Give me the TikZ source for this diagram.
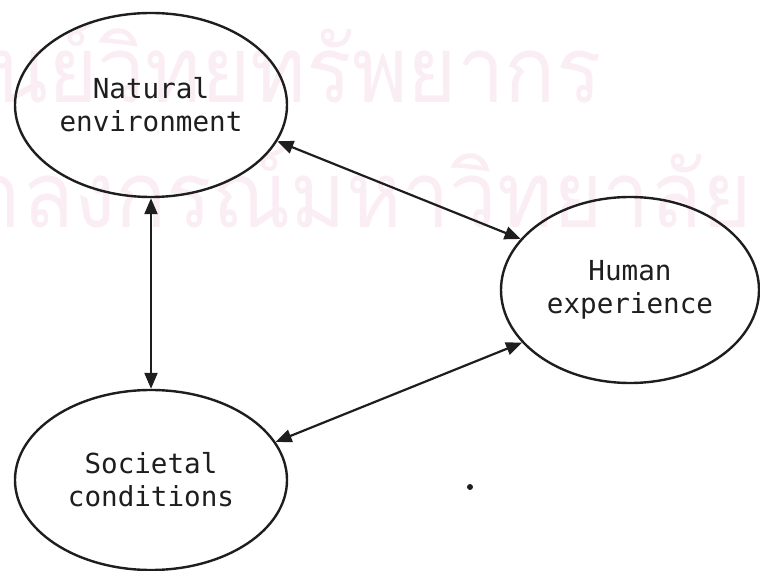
\documentclass[tikz,border=0pt]{standalone}
\usepackage{fontspec}
\usepackage{tikz}
\usetikzlibrary{shapes.geometric,arrows.meta}
\setmonofont{DejaVu Sans Mono}
\newfontfamily\thaifont[Script=Thai]{Loma}
\definecolor{inkblack}{HTML}{1E1E1E}
\definecolor{stamppink}{HTML}{FAEEF4}

\begin{document}
\begin{tikzpicture}[
    x=0.5pt, y=-0.5pt,
    every node/.style={
        font=\ttfamily\fontsize{13.8pt}{16.5pt}\selectfont,
        align=center,
        text=inkblack
    },
    concept/.style={
        ellipse,
        draw=inkblack,
        line width=1.2pt,
        inner sep=0pt
    },
    link/.style={
        draw=inkblack,
        line width=1.1pt,
        {Triangle[length=8pt,width=6.5pt]}-{Triangle[length=8pt,width=6.5pt]}
    },
    stamp/.style={
        font=\thaifont\fontsize{46pt}{46pt}\selectfont,
        text=stamppink,
        inner sep=0pt
    }
]
\useasboundingbox (0,0) rectangle (760,571);
\clip (0,0) rectangle (760,571);
% faint library stamp behind the diagram
\node[stamp, anchor=base east] (stampa) at (602,103) {\scalebox{0.92}[1]{ศูนย์วิทยทรัพยากร}};
\node[stamp, anchor=base east] (stampb) at (752,228) {\scalebox{0.92}[1]{จุฬาลงกรณ์มหาวิทยาลัย}};

\node[concept, minimum width=136pt, minimum height=92pt] (nat) at (151,105) {Natural\\environment};
\node[concept, minimum width=129pt, minimum height=93pt] (hum) at (630,290) {Human\\experience};
\node[concept, minimum width=136pt, minimum height=90pt] (soc) at (151,480) {Societal\\conditions};

\draw[link] (nat.south) -- (soc.north);
\draw[link] (nat.-16) -- (hum.155);
\draw[link] (soc.17) -- (hum.-154);

\fill[inkblack] (470,487) circle (1.5pt);
\end{tikzpicture}
\end{document}
